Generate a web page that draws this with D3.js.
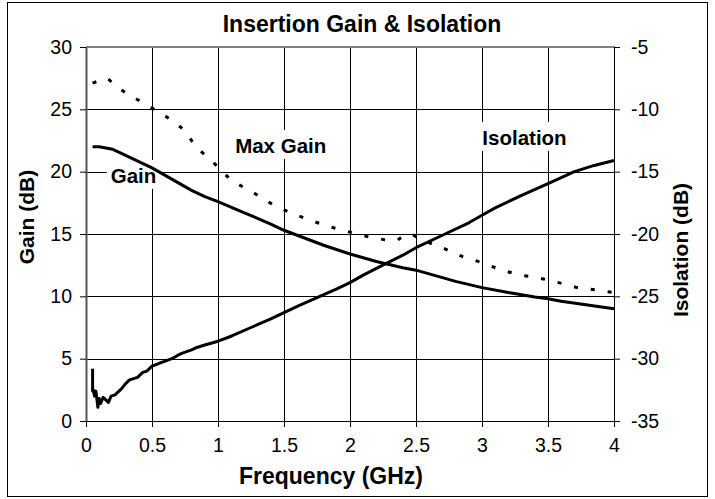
<!DOCTYPE html>
<html><head><meta charset="utf-8">
<script src="https://cdn.jsdelivr.net/npm/d3@7"></script>
<style>
html,body{margin:0;padding:0;background:#fff;}
text{font-family:"Liberation Sans",Arial,sans-serif;fill:#000;}
</style></head>
<body><svg id="chart" width="715" height="499"></svg>
<script>
// ---- data ----
const title = "Insertion Gain & Isolation";
const xTicks = [0, 0.5, 1, 1.5, 2, 2.5, 3, 3.5, 4];
const gainTicks = [0, 5, 10, 15, 20, 25, 30];
const isoTicks = [-35, -30, -25, -20, -15, -10, -5];

const gainFreq = [0.05, 0.1, 0.2, 0.3, 0.4, 0.5, 0.6, 0.7, 0.8, 0.9, 1.0, 1.2, 1.4, 1.5, 1.6, 1.8, 2.0, 2.2, 2.4, 2.5, 2.6, 2.8, 3.0, 3.2, 3.4, 3.5, 3.6, 3.8, 4.0];
const gainVals = [22.0, 22.0, 21.8, 21.3, 20.8, 20.3, 19.7, 19.1, 18.5, 18.0, 17.6, 16.7, 15.8, 15.3, 14.9, 14.1, 13.4, 12.8, 12.3, 12.1, 11.8, 11.2, 10.7, 10.3, 9.95, 9.8, 9.6, 9.3, 9.0];

const maxGainFreq = [0.05, 0.1, 0.16, 0.26, 0.37, 0.5, 0.64, 0.75, 0.83, 0.95, 1.1, 1.27, 1.41, 1.55, 1.7, 1.84, 1.98, 2.13, 2.28, 2.36, 2.42, 2.48, 2.55, 2.7, 2.85, 3.0, 3.15, 3.29, 3.42, 3.58, 3.72, 3.87, 4.0];
const maxGainVals = [27.1, 27.3, 27.5, 26.6, 25.9, 25.1, 24.2, 23.3, 22.0, 20.9, 19.3, 18.3, 17.4, 16.7, 16.1, 15.6, 15.2, 14.8, 14.5, 14.5, 15.0, 14.9, 14.5, 13.9, 13.2, 12.7, 12.1, 11.7, 11.5, 11.1, 10.7, 10.5, 10.3];

const isoFreq = [0.05, 0.05, 0.055, 0.065, 0.075, 0.09, 0.1, 0.11, 0.13, 0.15, 0.17, 0.19, 0.22, 0.25, 0.27, 0.3, 0.33, 0.36, 0.39, 0.43, 0.46, 0.5, 0.56, 0.6, 0.66, 0.7, 0.73, 0.8, 0.84, 0.9, 1.0, 1.1, 1.25, 1.4, 1.5, 1.6, 1.75, 1.9, 2.0, 2.1, 2.23, 2.4, 2.5, 2.7, 2.9, 3.0, 3.1, 3.3, 3.5, 3.7, 3.85, 4.0];
const isoVals = [-30.8, -32.6, -32.5, -33.0, -32.6, -33.9, -33.2, -33.6, -33.1, -33.3, -33.5, -33.0, -32.9, -32.6, -32.4, -32.0, -31.7, -31.6, -31.5, -31.1, -31.0, -30.6, -30.35, -30.2, -29.95, -29.7, -29.55, -29.3, -29.1, -28.9, -28.6, -28.2, -27.5, -26.8, -26.3, -25.8, -25.1, -24.4, -23.9, -23.3, -22.6, -21.7, -21.1, -20.1, -19.1, -18.5, -17.9, -16.9, -15.95, -15.0, -14.5, -14.1];

const labels = [
  {text: "Gain", f: 0.36, v: 19.1},
  {text: "Max Gain", f: 1.475, v: 21.5},
  {text: "Isolation", f: 3.322, v: 22.14}
];

// ---- layout ----
const svg = d3.select("#chart");
const L = 86, R = 614, T = 47, B = 421;
const x = d3.scaleLinear().domain([0, 4]).range([L, R]);
const yG = d3.scaleLinear().domain([0, 30]).range([B, T]);
const yI = d3.scaleLinear().domain([-35, -5]).range([B, T]);

svg.append("rect").attr("x", 7.5).attr("y", 2.5).attr("width", 700).attr("height", 494)
  .attr("fill", "#fff").attr("stroke", "#000").attr("stroke-width", 1);

// grid
const grid = svg.append("g");
grid.selectAll("line.v").data(xTicks.filter(d => d > 0 && d < 4)).join("line")
  .attr("x1", d => x(d) + 0.5).attr("x2", d => x(d) + 0.5).attr("y1", T).attr("y2", B)
  .attr("stroke", "#000").attr("stroke-width", 1);
grid.selectAll("line.h").data(gainTicks.filter(d => d > 0 && d < 30)).join("line")
  .attr("y1", d => Math.round(yG(d)) + 0.5).attr("y2", d => Math.round(yG(d)) + 0.5).attr("x1", L).attr("x2", R)
  .attr("stroke", "#000").attr("stroke-width", 1);
svg.append("line").attr("x1", L).attr("x2", R + 1).attr("y1", T).attr("y2", T).attr("stroke", "#808080").attr("stroke-width", 2);
svg.append("line").attr("x1", R + 0.5).attr("x2", R + 0.5).attr("y1", T).attr("y2", B).attr("stroke", "#000").attr("stroke-width", 1);

// axes
const fmt = d => String(d);
const axL = svg.append("g").attr("transform", `translate(${L},0)`)
  .call(d3.axisLeft(yG).tickValues(gainTicks).tickSize(6).tickSizeOuter(0).tickFormat(fmt).tickPadding(8));
const axR = svg.append("g").attr("transform", `translate(${R},0)`)
  .call(d3.axisRight(yI).tickValues(isoTicks).tickSize(6).tickSizeOuter(0).tickFormat(fmt).tickPadding(11));
const axB = svg.append("g").attr("transform", `translate(0,${B})`)
  .call(d3.axisBottom(x).tickValues(xTicks).tickSize(6).tickSizeOuter(0).tickFormat(fmt).tickPadding(6));
[axL, axR, axB].forEach(a => {
  a.selectAll("text").attr("font-size", 19.5).attr("font-family", "Liberation Sans, Arial, sans-serif").attr("fill", "#000");
  a.selectAll("line").attr("stroke", "#000");
});
axL.select(".domain").attr("stroke", "#555").attr("stroke-width", 2);
axR.select(".domain").attr("stroke", "#000");
axB.select(".domain").attr("stroke", "#000");
axB.selectAll(".tick text").attr("dy", "0.95em");

// label boxes (under lines)
const lblG = svg.append("g");
labels.forEach(l => {
  const t = lblG.append("text").attr("x", x(l.f)).attr("y", yG(l.v)).attr("text-anchor", "middle")
    .attr("font-size", 20.5).attr("font-weight", "bold").text(l.text);
  const bb = t.node().getBBox();
  lblG.insert("rect", "text").attr("x", bb.x - 4).attr("y", bb.y - 4).attr("width", bb.width + 8).attr("height", bb.height + 6)
    .attr("fill", "#fff");
});

// series
const line = (xs, ys, yScale) => d3.line().x((d, i) => x(xs[i])).y((d, i) => yScale(ys[i]))(ys);
svg.append("path").attr("d", line(gainFreq, gainVals, yG)).attr("fill", "none").attr("stroke", "#000").attr("stroke-width", 3);
svg.append("path").attr("d", line(maxGainFreq, maxGainVals, yG)).attr("fill", "none").attr("stroke", "#000")
  .attr("stroke-width", 3).attr("stroke-dasharray", "4,13");
svg.append("path").attr("d", line(isoFreq, isoVals, yI)).attr("fill", "none").attr("stroke", "#000")
  .attr("stroke-width", 3).attr("stroke-linejoin", "round");

// titles
svg.append("text").attr("x", 362).attr("y", 32).attr("text-anchor", "middle")
  .attr("font-size", 23).attr("font-weight", "bold").text(title);
svg.append("text").attr("x", 331).attr("y", 484).attr("text-anchor", "middle")
  .attr("font-size", 23).attr("font-weight", "bold").text("Frequency (GHz)");
svg.append("text").attr("transform", "translate(34,217) rotate(-90)").attr("text-anchor", "middle")
  .attr("font-size", 21).attr("font-weight", "bold").text("Gain (dB)");
svg.append("text").attr("transform", "translate(688,250) rotate(-90)").attr("text-anchor", "middle")
  .attr("font-size", 21).attr("font-weight", "bold").text("Isolation (dB)");
</script></body></html>
